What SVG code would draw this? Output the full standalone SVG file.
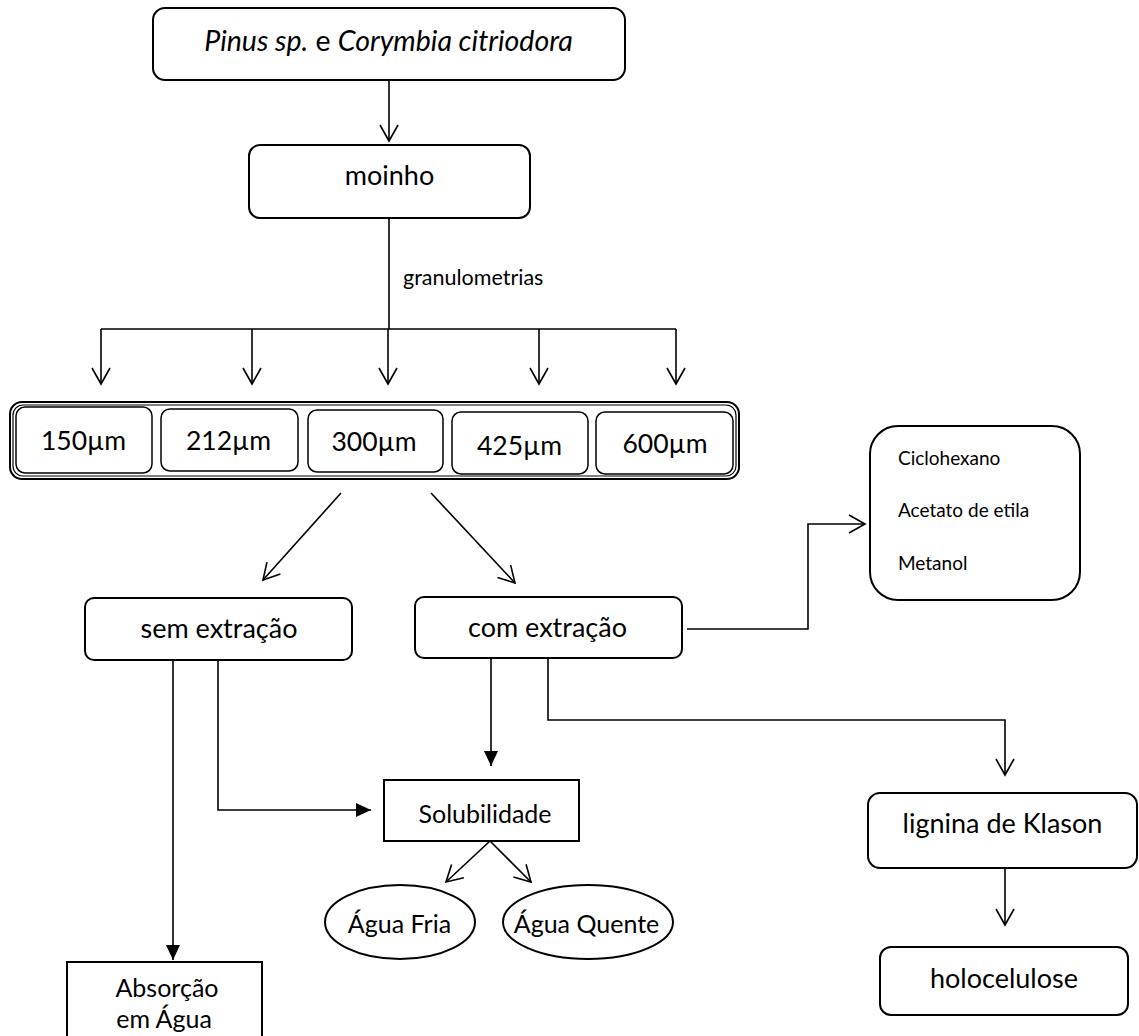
<svg xmlns="http://www.w3.org/2000/svg" width="1139" height="1036" viewBox="0 0 1139 1036">
<defs>
<marker id="open" viewBox="-18 -11 20 22" refX="0" refY="0" markerWidth="20" markerHeight="22" markerUnits="userSpaceOnUse" orient="auto">
<path d="M-16,-9 L0,0 L-16,9" fill="none" stroke="#000" stroke-width="1.6"/>
</marker>
<marker id="filled" viewBox="-16 -8 17 16" refX="0" refY="0" markerWidth="17" markerHeight="16" markerUnits="userSpaceOnUse" orient="auto">
<path d="M-15,-7 L0,0 L-15,7 Z" fill="#000"/>
</marker>
<style>
.box{fill:#fff;stroke:#000;stroke-width:2}
.thin{fill:#fff;stroke:#000;stroke-width:1.5}
.t{font-family:Lato,"Open Sans",sans-serif;fill:#000;text-anchor:middle}
.s{font-family:Lato,"Open Sans",sans-serif;fill:#000}
.c{fill:none;stroke:#000;stroke-width:1.6}
.o{marker-end:url(#open)}
.f{marker-end:url(#filled)}
</style>
</defs>

<g id="connectors">
<path class="c o" d="M389,80 V141"/>
<path class="c" d="M389,218 V329 M101,329 H676"/>
<path class="c o" d="M101,329 V384"/>
<path class="c o" d="M252,329 V384"/>
<path class="c o" d="M388,329 V384"/>
<path class="c o" d="M539,329 V384"/>
<path class="c o" d="M676,329 V384"/>
<path class="c o" d="M341,493 L263,580"/>
<path class="c o" d="M431,493 L515,583"/>
<path class="c o" d="M687,629 H808 V524 H865"/>
<path class="c f" d="M173,660 V960"/>
<path class="c f" d="M218,660 V810 H371"/>
<path class="c f" d="M491,658 V766"/>
<path class="c o" d="M548,658 V720 H1005 V775"/>
<path class="c o" d="M490,841 L446,882"/>
<path class="c o" d="M490,841 L531,882"/>
<path class="c o" d="M1005,868 V925"/>
</g>

<g id="n-especies">
<rect class="box" x="153" y="8" width="472" height="72" rx="12"/>
<text class="t" x="388.5" y="51" font-size="28.5"><tspan font-style="italic">Pinus sp.</tspan> e <tspan font-style="italic">Corymbia citriodora</tspan></text>
</g>
<g id="n-moinho">
<rect class="box" x="249" y="145" width="281" height="73" rx="11"/>
<text class="t" x="389.5" y="185" font-size="27">moinho</text>
</g>
<g id="n-granulometrias">
<text class="s" x="403" y="285" font-size="21.5">granulometrias</text>
</g>
<g id="n-faixa">
<rect class="box" x="10" y="402" width="729" height="77" rx="12"/>
<rect x="13" y="405" width="723" height="71" rx="10" fill="none" stroke="#000" stroke-width="1.2"/>
</g>
<g id="n-150">
<rect class="thin" x="16" y="407" width="136" height="66" rx="9"/>
<text class="t" x="83.5" y="450" font-size="26.5">150µm</text>
</g>
<g id="n-212">
<rect class="thin" x="161" y="409" width="137" height="62" rx="9"/>
<text class="t" x="228.5" y="450" font-size="26.5">212µm</text>
</g>
<g id="n-300">
<rect class="thin" x="308" y="410" width="135" height="62" rx="9"/>
<text class="t" x="374" y="451" font-size="26.5">300µm</text>
</g>
<g id="n-425">
<rect class="thin" x="452" y="412" width="136" height="62" rx="9"/>
<text class="t" x="519.5" y="455" font-size="26.5">425µm</text>
</g>
<g id="n-600">
<rect class="thin" x="596" y="412" width="137" height="62" rx="9"/>
<text class="t" x="665" y="453" font-size="26.5">600µm</text>
</g>
<g id="n-solventes">
<rect class="box" x="870" y="426" width="210" height="174" rx="28"/>
<text class="s" x="898" y="465" font-size="19">Ciclohexano</text>
<text class="s" x="898" y="517" font-size="19">Acetato de etila</text>
<text class="s" x="898" y="570" font-size="19">Metanol</text>
</g>
<g id="n-sem">
<rect class="box" x="85" y="598" width="267" height="62" rx="9"/>
<text class="t" x="219" y="638" font-size="27">sem extração</text>
</g>
<g id="n-com">
<rect class="box" x="415" y="597" width="267" height="61" rx="9"/>
<text class="t" x="547.5" y="637" font-size="27">com extração</text>
</g>
<g id="n-solubilidade">
<rect class="box" x="384" y="780" width="195" height="61"/>
<text class="t" x="485" y="823" font-size="25">Solubilidade</text>
</g>
<g id="n-fria">
<ellipse class="box" cx="400" cy="922" rx="75" ry="37"/>
<text class="t" x="399.5" y="933" font-size="25">Água Fria</text>
</g>
<g id="n-quente">
<ellipse class="box" cx="588" cy="922" rx="85" ry="37"/>
<text class="t" x="586.5" y="933" font-size="25">Água Quente</text>
</g>
<g id="n-absorcao">
<rect class="box" x="67" y="962" width="195" height="90"/>
<text class="t" x="167" y="997" font-size="25">Absorção</text>
<text class="t" x="164" y="1028" font-size="25">em Água</text>
</g>
<g id="n-lignina">
<rect class="box" x="868" y="793" width="269" height="75" rx="12"/>
<text class="t" x="1002.5" y="833" font-size="27">lignina de Klason</text>
</g>
<g id="n-holocelulose">
<rect class="box" x="880" y="947" width="248" height="68" rx="11"/>
<text class="t" x="1004" y="988" font-size="27">holocelulose</text>
</g>
</svg>
